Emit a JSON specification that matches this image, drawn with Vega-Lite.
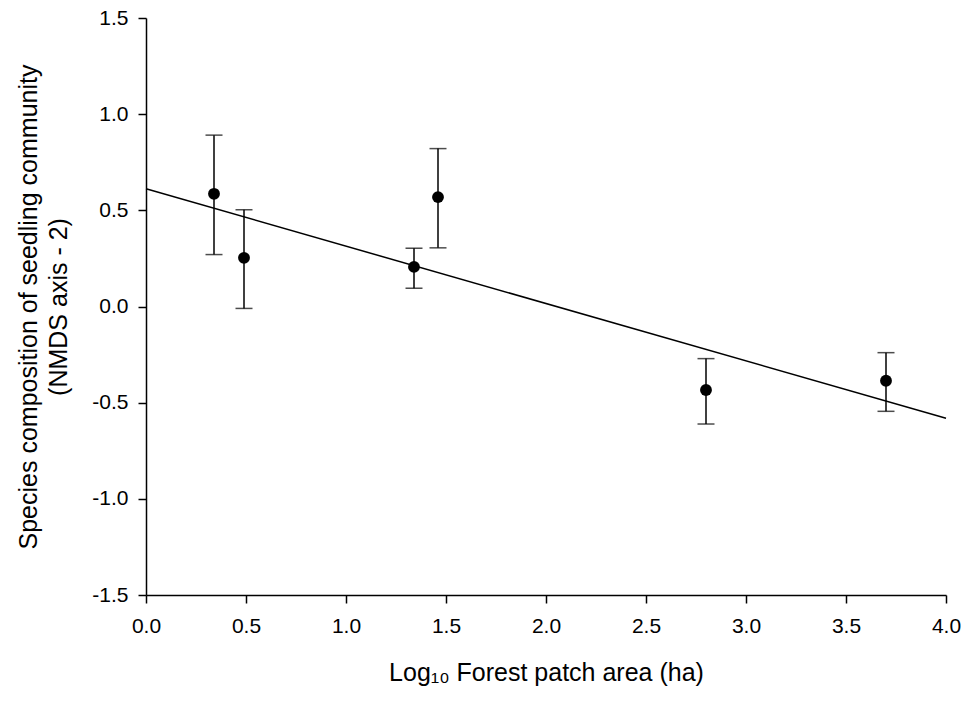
{
  "$schema": "https://vega.github.io/schema/vega-lite/v6.json",
  "width": 800,
  "height": 577,
  "autosize": "none",
  "padding": {"left": 146, "top": 18, "right": 20, "bottom": 107},
  "background": "white",
  "config": {
    "view": {"stroke": null},
    "font": "Liberation Sans",
    "axis": {
      "grid": false,
      "domainColor": "black",
      "domainWidth": 1.5,
      "tickColor": "black",
      "tickWidth": 1.5,
      "labelColor": "black",
      "titleColor": "black",
      "labelFont": "Liberation Sans",
      "titleFont": "Liberation Sans",
      "labelFontSize": 21,
      "titleFontSize": 25,
      "titleFontWeight": "normal",
      "titleLineHeight": 30
    }
  },
  "datasets": {
    "pts": [
      {"area": 0.34, "nmds": 0.586, "lo": 0.270, "hi": 0.891},
      {"area": 0.49, "nmds": 0.253, "lo": -0.010, "hi": 0.503},
      {"area": 1.34, "nmds": 0.206, "lo": 0.095, "hi": 0.303},
      {"area": 1.46, "nmds": 0.569, "lo": 0.305, "hi": 0.821},
      {"area": 2.80, "nmds": -0.434, "lo": -0.611, "hi": -0.271},
      {"area": 3.70, "nmds": -0.386, "lo": -0.545, "hi": -0.240}
    ],
    "fit": [
      {"area": 0.0, "nmds": 0.612},
      {"area": 4.0, "nmds": -0.581}
    ]
  },
  "layer": [
    {
      "data": {"name": "fit"},
      "mark": {"type": "line", "color": "black", "strokeWidth": 1.5},
      "encoding": {
        "x": {
          "field": "area", "type": "quantitative",
          "scale": {"domain": [0, 4], "nice": false, "zero": false},
          "axis": {
            "title": "Log₁₀ Forest patch area (ha)",
            "values": [0, 0.5, 1, 1.5, 2, 2.5, 3, 3.5, 4],
            "labelExpr": "replace(format(datum.value, '.1f'), '−', '-')",
            "tickSize": 8,
            "labelPadding": 12,
            "titlePadding": 24,
            "labelFlush": false
          }
        },
        "y": {
          "field": "nmds", "type": "quantitative",
          "scale": {"domain": [-1.5, 1.5], "nice": false, "zero": false},
          "axis": {
            "title": ["Species composition of seedling community", "(NMDS axis - 2)"],
            "values": [-1.5, -1, -0.5, 0, 0.5, 1, 1.5],
            "labelExpr": "replace(format(datum.value, '.1f'), '−', '-')",
            "tickSize": 8,
            "labelPadding": 10,
            "titlePadding": 20,
            "labelFlush": false
          }
        }
      }
    },
    {
      "data": {"name": "pts"},
      "mark": {"type": "rule", "color": "black", "strokeWidth": 1.5},
      "encoding": {
        "x": {"field": "area", "type": "quantitative"},
        "y": {"field": "lo", "type": "quantitative"},
        "y2": {"field": "hi"}
      }
    },
    {
      "data": {"name": "pts"},
      "mark": {"type": "tick", "color": "black", "orient": "horizontal", "size": 17, "thickness": 1.5},
      "encoding": {
        "x": {"field": "area", "type": "quantitative"},
        "y": {"field": "lo", "type": "quantitative"}
      }
    },
    {
      "data": {"name": "pts"},
      "mark": {"type": "tick", "color": "black", "orient": "horizontal", "size": 17, "thickness": 1.5},
      "encoding": {
        "x": {"field": "area", "type": "quantitative"},
        "y": {"field": "hi", "type": "quantitative"}
      }
    },
    {
      "data": {"name": "pts"},
      "mark": {"type": "point", "filled": true, "shape": "circle", "color": "black", "opacity": 1, "size": 140},
      "encoding": {
        "x": {"field": "area", "type": "quantitative"},
        "y": {"field": "nmds", "type": "quantitative"}
      }
    }
  ]
}
